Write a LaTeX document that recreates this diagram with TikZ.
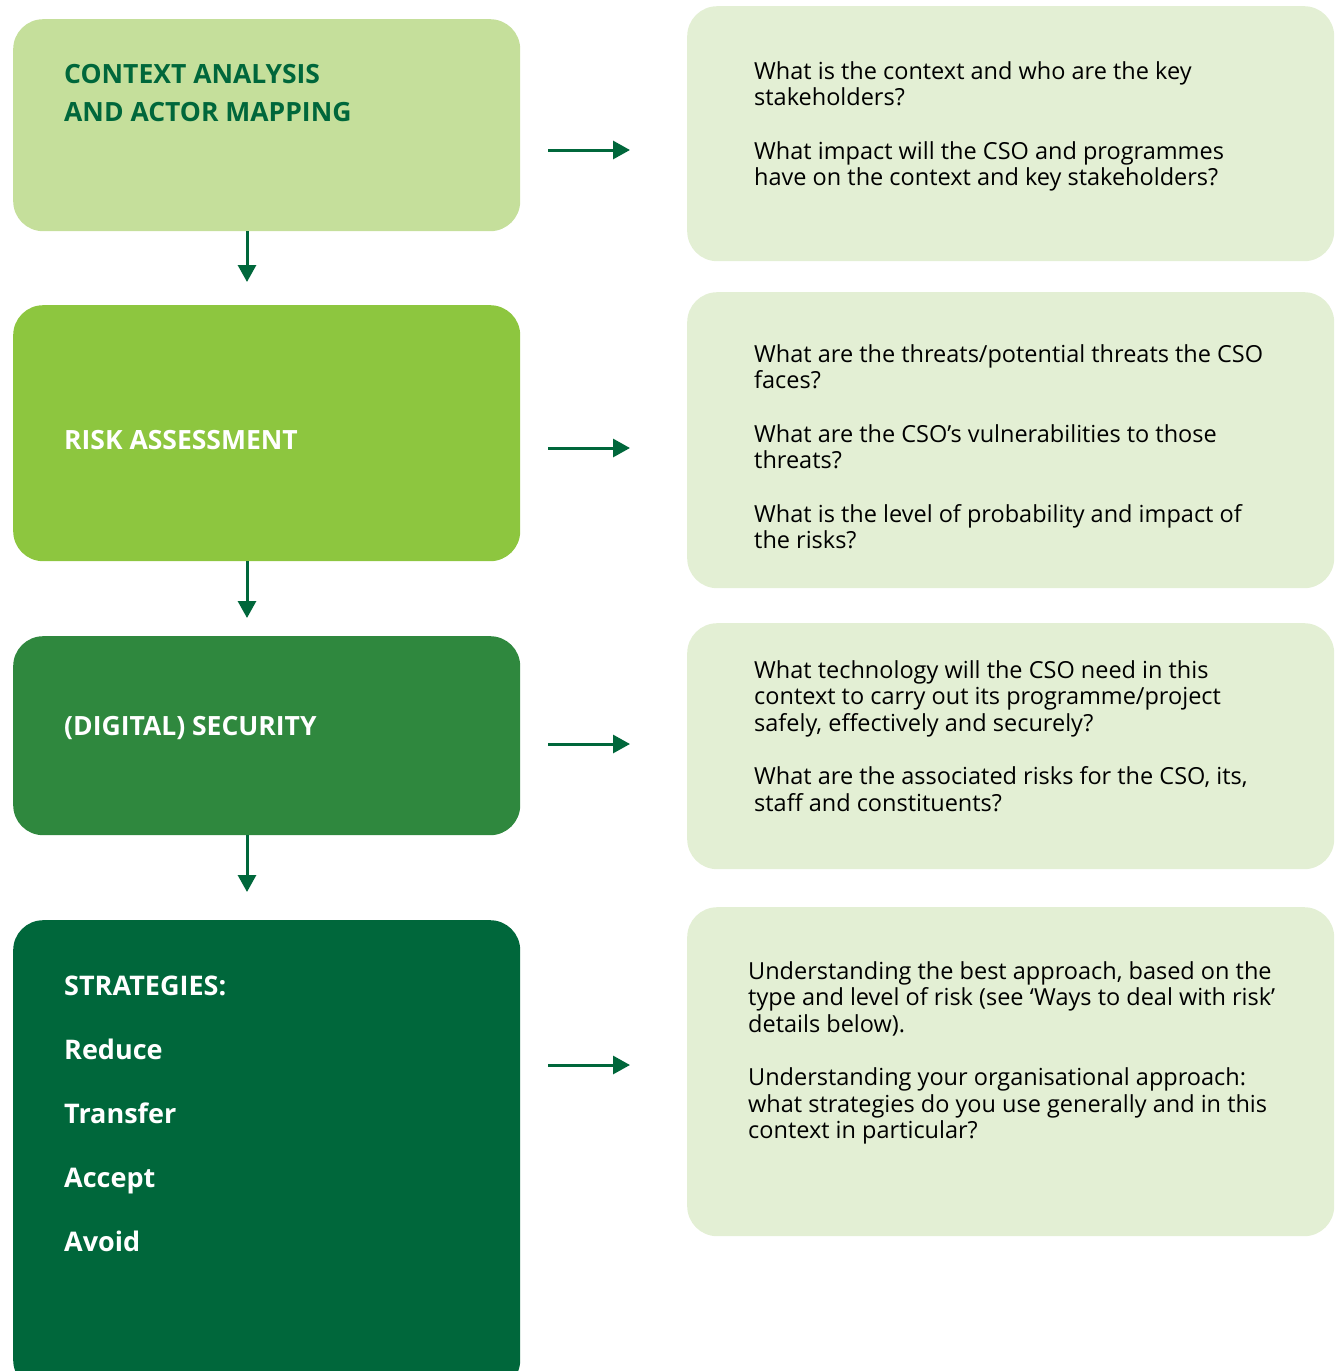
\documentclass[tikz,border=0pt]{standalone}
\usepackage{fontspec}
\setmainfont{Open Sans}
\usetikzlibrary{arrows.meta}
\definecolor{stageA}{HTML}{C5DF9B}
\definecolor{stageB}{HTML}{8DC63F}
\definecolor{stageC}{HTML}{2F883E}
\definecolor{stageD}{HTML}{00673B}
\definecolor{queryfill}{HTML}{E3EFD4}
\definecolor{linkgreen}{HTML}{00673B}
\begin{document}
\begin{tikzpicture}[x=1pt, y=-1pt, line join=round, >={Triangle[length=17pt,width=18pt]}]

	\tikzset{stage/.style={rounded corners=30pt, minimum width=507pt, anchor=north west, inner sep=0pt},
		query/.style={fill=queryfill, rounded corners=30pt, minimum width=647pt, anchor=north west, inner sep=0pt},
		head/.style={anchor=north west, inner sep=0pt, align=left, font=\bfseries\fontsize{26.5}{38}\selectfont},
		option/.style={head, font=\bfseries\fontsize{27}{64}\selectfont},
		body/.style={anchor=north west, inner sep=0pt, align=left, text=black, font=\fontsize{23.5}{26.5}\selectfont},
		link/.style={->, draw=linkgreen, line width=3pt}}

	\useasboundingbox (0,0) rectangle (1335,1371);
	\begin{scope}
	\clip (0,0) rectangle (1335,1371);
	\node[stage, fill=stageA, minimum height=212pt] (b1) at (13,19) {};
	\node[stage, fill=stageB, minimum height=256pt] (b2) at (13,305) {};
	\node[stage, fill=stageC, minimum height=199pt] (b3) at (13,636) {};
	\node[stage, fill=stageD, minimum height=470pt] (b4) at (13,920) {};
	\end{scope}

	\node[query, minimum height=255pt] (q1) at (687,6) {};
	\node[query, minimum height=296pt] (q2) at (687,292) {};
	\node[query, minimum height=246pt] (q3) at (687,623) {};
	\node[query, minimum height=329pt] (q4) at (687,907) {};

	\node[head, text=stageD] (t1) at (64,64) {CONTEXT ANALYSIS\\AND ACTOR MAPPING};
	\node[head, text=white] (t2) at (64,430) {RISK ASSESSMENT};
	\node[head, text=white] (t3) at (64,716) {(DIGITAL) SECURITY};
	\node[option, text=white] (t4) at (64,976) {STRATEGIES:\\Reduce\\Transfer\\Accept\\Avoid};

	\node[body] (a1) at (754,61) {What is the context and who are the key\\stakeholders?\\[27pt]
		What impact will the CSO and programmes\\have on the context and key stakeholders?};
	\node[body] (a2) at (754,344) {What are the threats/potential threats the CSO\\faces?\\[27pt]
		What are the CSO’s vulnerabilities to those\\threats?\\[27pt]
		What is the level of probability and impact of\\the risks?};
	\node[body] (a3) at (754,660) {What technology will the CSO need in this\\context to carry out its programme/project\\safely, effectively and securely?\\[27pt]
		What are the associated risks for the CSO, its,\\staff and constituents?};
	\node[body] (a4) at (748,961) {Understanding the best approach, based on the\\type and level of risk (see ‘Ways to deal with risk’\\details below).\\[27pt]
		Understanding your organisational approach:\\what strategies do you use generally and in this\\context in particular?};

	\coordinate (r1) at (0,150);
	\coordinate (r2) at (0,448);
	\coordinate (r3) at (0,744);
	\coordinate (r4) at (0,1065);
	\coordinate (dx) at (247,0);
	\draw[link, shorten <=28pt, shorten >=57pt] (b1.east |- r1) -- (q1.west |- r1);
	\draw[link, shorten <=28pt, shorten >=57pt] (b2.east |- r2) -- (q2.west |- r2);
	\draw[link, shorten <=28pt, shorten >=57pt] (b3.east |- r3) -- (q3.west |- r3);
	\draw[link, shorten <=28pt, shorten >=57pt] (b4.east |- r4) -- (q4.west |- r4);
	\draw[link, shorten >=23pt] (b1.south -| dx) -- (b2.north -| dx);
	\draw[link, shorten >=18pt] (b2.south -| dx) -- (b3.north -| dx);
	\draw[link, shorten >=28pt] (b3.south -| dx) -- (b4.north -| dx);
\end{tikzpicture}
\end{document}
